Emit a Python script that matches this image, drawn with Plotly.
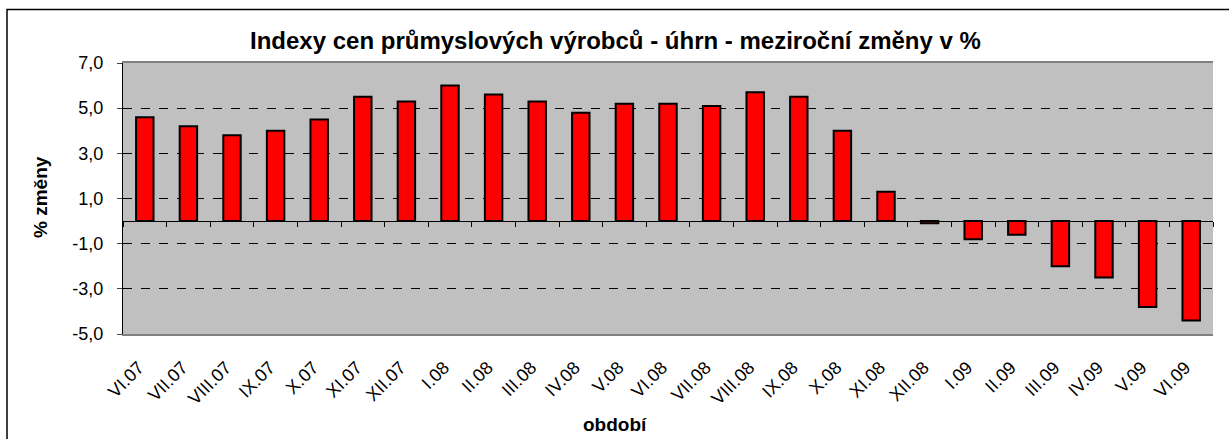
import plotly.graph_objects as go

categories = ["VI.07", "VII.07", "VIII.07", "IX.07", "X.07", "XI.07", "XII.07",
              "I.08", "II.08", "III.08", "IV.08", "V.08", "VI.08", "VII.08",
              "VIII.08", "IX.08", "X.08", "XI.08", "XII.08", "I.09", "II.09",
              "III.09", "IV.09", "V.09", "VI.09"]
values = [4.6, 4.2, 3.8, 4.0, 4.5, 5.5, 5.3, 6.0, 5.6, 5.3, 4.8, 5.2, 5.2, 5.1,
          5.7, 5.5, 4.0, 1.3, -0.1, -0.8, -0.6, -2.0, -2.5, -3.8, -4.4]
y_tickvals = [-5, -3, -1, 1, 3, 5, 7]
y_ticktext = ["-5,0", "-3,0", "-1,0", "1,0", "3,0", "5,0", "7,0"]

W, H = 1229, 439
L, R, T, B = 123, 16, 63, 105
pw, ph = W - L - R, H - T - B
xr = [-0.5, len(categories) - 0.5]

fig = go.Figure()
fig.add_trace(go.Bar(x=categories, y=values, width=0.4,
                     marker=dict(color="#FF0000", line=dict(color="black", width=2)),
                     showlegend=False))
# invisible trace to drive the zero-line axis with boundary ticks
fig.add_trace(go.Scatter(x=categories, y=[0]*len(categories), xaxis="x2",
                         mode="markers", marker=dict(opacity=0), showlegend=False,
                         hoverinfo="skip"))

font = "Liberation Sans, Arial, sans-serif"
fig.update_layout(
    width=W, height=H,
    margin=dict(l=L, r=R, t=T, b=B),
    paper_bgcolor="white", plot_bgcolor="#C0C0C0",
    separators=", ",
    font=dict(family=font, color="black"),
    xaxis=dict(type="category", range=xr, showgrid=False, ticks="", tickangle=-45,
               tickfont=dict(size=18), showline=True, linecolor="#808080",
               linewidth=2, mirror=True, zeroline=False, ticklabelstandoff=14,
               ticklabelshift=-6),
    xaxis2=dict(type="category", range=xr, overlaying="x", anchor="free",
                position=5/12, showticklabels=False, ticks="outside", ticklen=5,
                tickcolor="black", tickson="boundaries", showline=True,
                linecolor="black", linewidth=1, showgrid=False),
    yaxis=dict(range=[-5, 7], tickmode="array", tickvals=y_tickvals,
               ticktext=y_ticktext,
               showgrid=True, gridcolor="black", griddash="dash", gridwidth=1,
               zeroline=False, showline=True, linecolor="black", linewidth=1,
               ticks="outside", ticklen=5, tickfont=dict(size=18),
               ticklabelstandoff=10),
    annotations=[
        dict(text="<b>Indexy cen průmyslových výrobců - úhrn - meziroční změny v %</b>",
             xref="paper", yref="paper", x=(615 - L) / pw, y=(H - B - 40) / ph,
             showarrow=False, font=dict(size=24), xanchor="center", yanchor="middle"),
        dict(text="<b>% změny</b>", textangle=-90, xref="paper", yref="paper",
             x=(40 - L) / pw, y=(H - B - 197) / ph, showarrow=False,
             font=dict(size=19), xanchor="center", yanchor="middle"),
        dict(text="<b>období</b>", xref="paper", yref="paper",
             x=(615 - L) / pw, y=(H - B - 424) / ph, showarrow=False,
             font=dict(size=19), xanchor="center", yanchor="middle"),
    ],
    shapes=[dict(type="rect", xref="paper", yref="paper",
                 x0=(7 - L) / pw, x1=(1250 - L) / pw,
                 y0=(H - B - 450) / ph, y1=(H - B - 9.5) / ph,
                 line=dict(color="black", width=1.5), layer="below")],
)
fig.write_html("out.html", config={"displayModeBar": False},
               post_script="document.body.style.margin='0';")
